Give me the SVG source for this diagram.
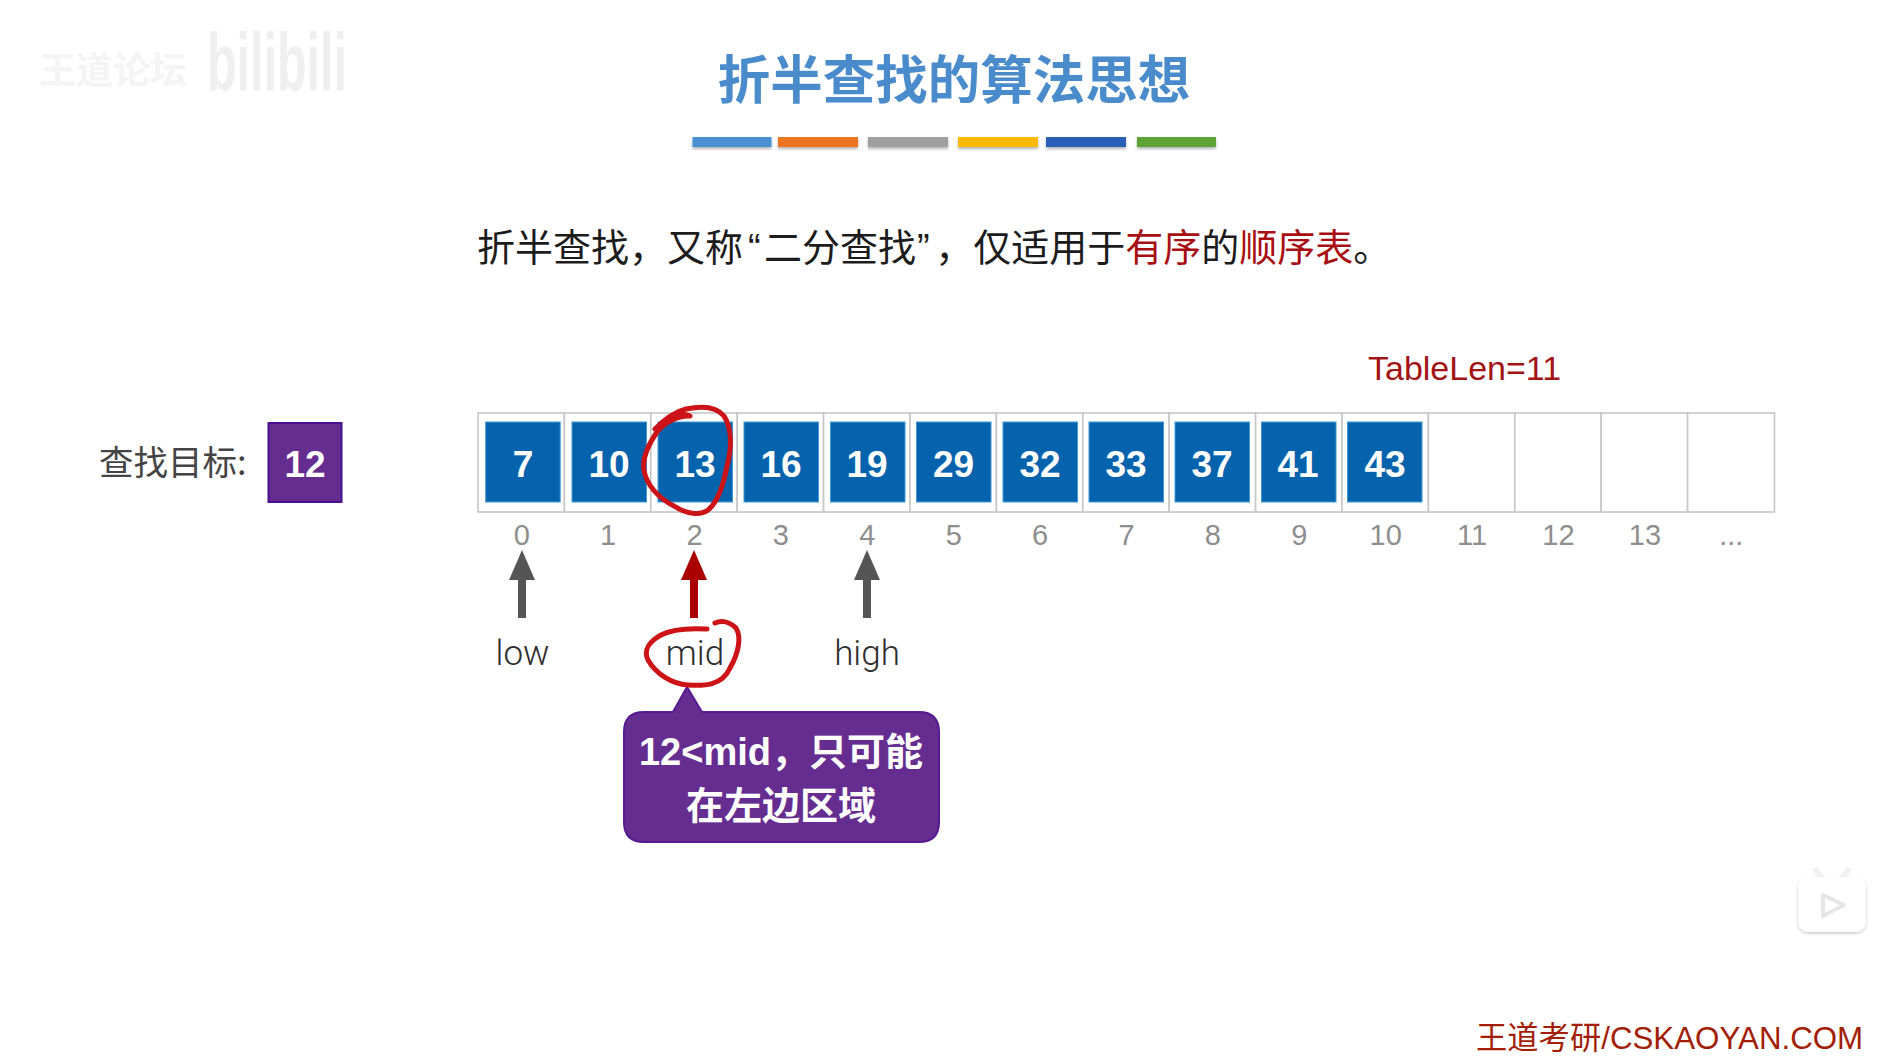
<svg xmlns="http://www.w3.org/2000/svg" width="1902" height="1064" viewBox="0 0 1902 1064">
<style>
text{font-family:"Liberation Sans","Noto Sans CJK SC",sans-serif}
.cjk{font-family:"Noto Sans CJK SC","Liberation Sans",sans-serif}
.q{font-family:"Liberation Sans",sans-serif}
.cell{fill:#fff;stroke:#c6c6c6;stroke-width:1.6}
.sq{fill:#0563ae;stroke:#3f9ad8;stroke-width:1}
.num{font-size:37px;font-weight:700;fill:#fff;text-anchor:middle}
.idx{font-size:29px;fill:#8e8e8e;text-anchor:middle}
.ptr{font-family:Roboto,"Liberation Sans",sans-serif;font-weight:300;font-size:35px;fill:#2e2e2e;text-anchor:middle}
.bar{filter:url(#sh)}
.ink{fill:none;stroke:#cc1418;stroke-width:5;stroke-linecap:round;stroke-linejoin:round}
.red{fill:#a80f12}
.arrow{stroke-width:8;fill:none}
</style>
<defs>
<filter id="sh" x="-10%" y="-40%" width="120%" height="200%"><feDropShadow dx="0" dy="2" stdDeviation="1.5" flood-color="#000" flood-opacity=".3"/></filter>
<filter id="tv" x="-20%" y="-20%" width="140%" height="140%"><feDropShadow dx="0" dy="1.5" stdDeviation="1.5" flood-color="#000" flood-opacity=".22"/></filter>
<marker id="headGrey" markerUnits="userSpaceOnUse" markerWidth="30" markerHeight="26" refX="0" refY="13" orient="auto"><path d="M0 0L30 13L0 26z" fill="#555"/></marker>
<marker id="headRed" markerUnits="userSpaceOnUse" markerWidth="30" markerHeight="26" refX="0" refY="13" orient="auto"><path d="M0 0L30 13L0 26z" fill="#ab0000"/></marker>
</defs>
<rect width="1902" height="1064" fill="#fff"/>

<g id="watermark">
<text class="cjk" x="39" y="84" font-size="37" font-weight="700" fill="#f4f4f4">王道论坛</text>
<text x="207" y="90" font-size="82" font-weight="700" fill="#efefef" textLength="140" lengthAdjust="spacingAndGlyphs">bilibili</text>
</g>

<g id="title">
<text class="cjk" x="954" y="99" font-size="52.500" font-weight="700" fill="#4a8ccb" text-anchor="middle">折半查找的算法思想</text>
<rect class="bar" x="692.500" y="137" width="79" height="10" fill="#4a90d0"/>
<rect class="bar" x="778" y="137" width="80" height="10" fill="#ed7422"/>
<rect class="bar" x="868" y="137" width="80" height="10" fill="#a0a0a0"/>
<rect class="bar" x="958" y="137" width="80" height="10" fill="#ffb900"/>
<rect class="bar" x="1046" y="137" width="80" height="10" fill="#2c5fb8"/>
<rect class="bar" x="1137" y="137" width="79" height="10" fill="#5da335"/>
</g>

<g id="definition">
<text class="cjk" x="477" y="261" font-size="38" fill="#1c1c1c">折半查找，又称<tspan class="q" dx="5">“</tspan><tspan dx="3.400">二分查找</tspan><tspan class="q" dx="1">”</tspan><tspan dx="5.400">，仅适用于</tspan><tspan class="red">有序</tspan>的<tspan class="red">顺序表</tspan>。</text>
</g>

<g id="target">
<text class="cjk" x="99" y="475" font-size="34.500" fill="#444">查找目标:</text>
<rect x="268.500" y="423" width="73" height="79" fill="#662d91" stroke="#4a0f90" stroke-width="2"/>
<text class="num" x="305" y="477">12</text>
</g>

<g id="tablelen"><text x="1368" y="380" font-size="34" fill="#a31414">TableLen=11</text></g>

<g id="table">
<rect class="cell" x="478" y="413" width="86.400" height="99"/>
<rect class="cell" x="564.400" y="413" width="86.400" height="99"/>
<rect class="cell" x="650.800" y="413" width="86.400" height="99"/>
<rect class="cell" x="737.200" y="413" width="86.400" height="99"/>
<rect class="cell" x="823.600" y="413" width="86.400" height="99"/>
<rect class="cell" x="910" y="413" width="86.400" height="99"/>
<rect class="cell" x="996.400" y="413" width="86.400" height="99"/>
<rect class="cell" x="1082.800" y="413" width="86.400" height="99"/>
<rect class="cell" x="1169.200" y="413" width="86.400" height="99"/>
<rect class="cell" x="1255.600" y="413" width="86.400" height="99"/>
<rect class="cell" x="1342" y="413" width="86.400" height="99"/>
<rect class="cell" x="1428.400" y="413" width="86.400" height="99"/>
<rect class="cell" x="1514.800" y="413" width="86.400" height="99"/>
<rect class="cell" x="1601.200" y="413" width="86.400" height="99"/>
<rect class="cell" x="1687.600" y="413" width="86.900" height="99"/>
</g>

<g id="elem0"><rect class="sq" x="485.700" y="422" width="74.500" height="80"/><text class="num" x="523" y="477">7</text></g>
<g id="elem1"><rect class="sq" x="572" y="422" width="74.500" height="80"/><text class="num" x="609" y="477">10</text></g>
<g id="elem2"><rect class="sq" x="658" y="422" width="74.500" height="80"/><text class="num" x="695" y="477">13</text></g>
<g id="elem3"><rect class="sq" x="744" y="422" width="74.500" height="80"/><text class="num" x="781" y="477">16</text></g>
<g id="elem4"><rect class="sq" x="830.500" y="422" width="74.500" height="80"/><text class="num" x="867" y="477">19</text></g>
<g id="elem5"><rect class="sq" x="916.500" y="422" width="74.500" height="80"/><text class="num" x="953.500" y="477">29</text></g>
<g id="elem6"><rect class="sq" x="1003" y="422" width="74.500" height="80"/><text class="num" x="1040" y="477">32</text></g>
<g id="elem7"><rect class="sq" x="1089" y="422" width="74.500" height="80"/><text class="num" x="1126" y="477">33</text></g>
<g id="elem8"><rect class="sq" x="1175" y="422" width="74.500" height="80"/><text class="num" x="1212" y="477">37</text></g>
<g id="elem9"><rect class="sq" x="1261.500" y="422" width="74.500" height="80"/><text class="num" x="1298" y="477">41</text></g>
<g id="elem10"><rect class="sq" x="1347.500" y="422" width="74.500" height="80"/><text class="num" x="1385" y="477">43</text></g>

<g id="indices">
<text class="idx" x="521.700" y="545">0</text>
<text class="idx" x="608" y="545">1</text>
<text class="idx" x="694.500" y="545">2</text>
<text class="idx" x="780.900" y="545">3</text>
<text class="idx" x="867.300" y="545">4</text>
<text class="idx" x="953.700" y="545">5</text>
<text class="idx" x="1040.100" y="545">6</text>
<text class="idx" x="1126.500" y="545">7</text>
<text class="idx" x="1212.900" y="545">8</text>
<text class="idx" x="1299.300" y="545">9</text>
<text class="idx" x="1385.700" y="545">10</text>
<text class="idx" x="1472.100" y="545">11</text>
<text class="idx" x="1558.500" y="545">12</text>
<text class="idx" x="1644.900" y="545">13</text>
<text class="idx" x="1731.300" y="545">...</text>
</g>

<g id="connectors">
<line class="arrow" x1="522" y1="618" x2="522" y2="580" stroke="#555" marker-end="url(#headGrey)"/>
<line class="arrow" x1="694" y1="618" x2="694" y2="580" stroke="#ab0000" marker-end="url(#headRed)"/>
<line class="arrow" x1="867" y1="618" x2="867" y2="580" stroke="#555" marker-end="url(#headGrey)"/>
</g>

<g id="low"><text class="ptr" x="522.500" y="665">low</text></g>
<g id="mid"><text class="ptr" x="695" y="665">mid</text></g>
<g id="high"><text class="ptr" x="867" y="665">high</text></g>

<g id="callout">
<path d="M644 712H673L687 687L702 712H919Q939 712 939 732V822Q939 842 919 842H644Q624 842 624 822V732Q624 712 644 712Z" fill="#662d91" stroke="#571a92" stroke-width="2"/>
<text x="781" y="765" font-size="38" font-weight="700" fill="#fff" text-anchor="middle">12&lt;mid，只可能</text>
<text x="781" y="819" font-size="38" font-weight="700" fill="#fff" text-anchor="middle">在左边区域</text>
</g>

<g id="annotations">
<path class="ink" d="M655 429C668 416 684 412 690 416C680 415 664 422 657 432C648 445 642 458 644 470C646 484 658 498 674 506C686 514 700 516 708 510C718 502 724 482 727 466C732 448 732 428 724 416C716 406 700 406 686 409C674 412 664 420 655 429"/>
<path class="ink" d="M707 629C690 628 672 629 661 635C650 641 643 650 648 660C656 674 672 684 688 685C704 686 722 686 730 668C738 654 742 638 736 628C730 622 722 620 715 623"/>
</g>

<g id="footer"><text x="1476" y="1049" font-size="31.300" fill="#a31e06">王道考研/CSKAOYAN.COM</text></g>

<g id="tv-icon">
<path d="M1822 878L1816 870M1842 878L1848 870" stroke="#f0f0f0" stroke-width="5.500" stroke-linecap="round" fill="none"/>
<rect x="1798" y="877" width="68" height="55" rx="10" fill="#fff" filter="url(#tv)"/>
<path d="M1823 895L1844 905L1823 916Z" fill="#fff" stroke="#e6e6e6" stroke-width="4" stroke-linejoin="round"/>
</g>
</svg>
